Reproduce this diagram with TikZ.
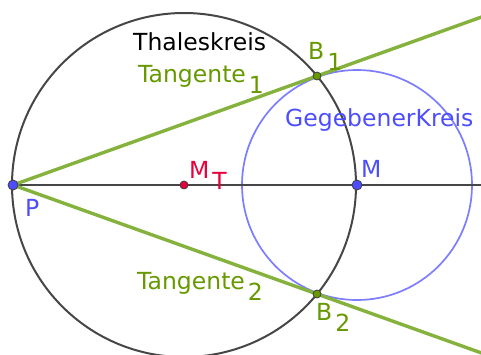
\documentclass[tikz,border=0pt]{standalone}
\usepackage{fontspec}
\setmainfont{DejaVu Sans}
\usetikzlibrary{calc}
\definecolor{tgreen}{RGB}{132,178,60}
\definecolor{lgreen}{RGB}{102,153,0}
\definecolor{gblue}{RGB}{125,125,255}
\definecolor{tblue}{RGB}{77,77,255}
\definecolor{tred}{RGB}{230,0,60}
\definecolor{dgray}{RGB}{70,70,70}
\tikzset{
  lbl/.style={anchor=base west, inner sep=0pt, font=\fontsize{23.5}{28}\selectfont},
  pt/.style={circle, draw=black!75, line width=0.8pt, inner sep=0pt, minimum size=10pt},
  tang/.style={tgreen, line width=3.4pt},
  gline/.style={dgray, line width=2.2pt},
}
\newcommand{\subs}[1]{\hspace{3pt}\raisebox{-11pt}{#1}}
\begin{document}
\begin{tikzpicture}[x=1pt,y=-1pt]
\useasboundingbox (0,0) rectangle (481,354);
\clip (0,0) rectangle (481,354);
\coordinate (P) at (13,185);
\coordinate (MT) at (184,185);
\coordinate (M) at (357,185);
\coordinate (B1) at (317,76);
\coordinate (B2) at (317,294);
\coordinate (E) at (490,185);
\coordinate (T1) at ($(P)!1.7!(B1)$);
\coordinate (T2) at ($(P)!1.7!(B2)$);
% circles
\draw[dgray, line width=2pt] (MT) circle (172);
\draw[gblue, line width=1.7pt] (M) circle (115);
% lines
\draw[gline] (P) -- (E);
\draw[tang] (P) -- (T1);
\draw[tang] (P) -- (T2);
% points
\node[pt, fill=tblue] (nP) at (P) {};
\node[pt, fill=tblue] (nM) at (M) {};
\node[pt, fill=tred, minimum size=8pt] (nMT) at (MT) {};
\node[pt, fill=lgreen, minimum size=8pt] (nB1) at (B1) {};
\node[pt, fill=lgreen, minimum size=8pt] (nB2) at (B2) {};
% labels
\node[lbl] (lT) at (133,50) {Thaleskreis};
\node[lbl, text=lgreen] (lt1) at (138,82) {Tangente\subs{1}};
\node[lbl, text=lgreen] (lt2) at (137,289) {Tangente\subs{2}};
\node[lbl, text=lgreen] (lB1) at (308,59) {B\subs{1}};
\node[lbl, text=lgreen] (lB2) at (316,320) {B\subs{2}};
\node[lbl, text=tblue] (lG) at (285,126) {GegebenerKreis};
\node[lbl, text=tred] (lMT) at (189,178) {M\subs{T}};
\node[lbl, text=tblue] (lP) at (25,216) {P};
\node[lbl, text=tblue] (lM) at (361,177) {M};
\end{tikzpicture}
\end{document}
